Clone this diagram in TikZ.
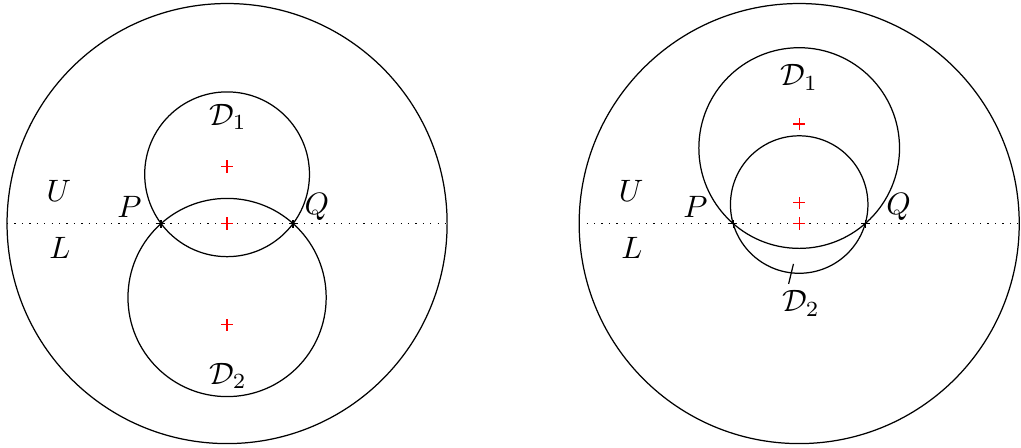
\documentclass[tikz,border=0pt]{standalone}
\usepackage{amsmath, amssymb}
\usepackage{tikz}
\usetikzlibrary{calc}

\tikzset{
  croix/.pic={\draw (-0.07,0) -- (0.07,0) (0,-0.07) -- (0,0.07);},
  petitecroix/.pic={\draw (-0.045,0) -- (0.045,0) (0,-0.045) -- (0,0.045);},
  axe/.style={dotted},
  centre/.style={red}
}

\begin{document}
\begin{tikzpicture}[scale=1.0]
  \useasboundingbox (-2.58,-2.54) rectangle (9.02,2.54);
  % Disque de gauche
  \begin{scope}[shift={(0,0)}]
    \draw (0,0) circle[radius=2.5];
    \coordinate (Wg) at (-2.5,0);
    \coordinate (Eg) at (2.5,0);
    \coordinate (Pg) at (-0.75,0);
    \coordinate (Qg) at (0.75,0);
    \draw[axe] (Wg) -- (Eg);
    \draw (0,0.56) circle[radius=0.936];
    \draw (0,-0.84) circle[radius=1.126];
    \pic at (Pg) {petitecroix};
    \pic at (Qg) {petitecroix};
    \pic[centre] at (0,0.65) {croix};
    \pic[centre] at (0,0) {croix};
    \pic[centre] at (0,-1.15) {croix};
    \node (Dgun) at (0.01,1.21) {$\mathcal{D}_1$};
    \node (Dgdeux) at (0.01,-1.73) {$\mathcal{D}_2$};
    \node (Pglab) at (-1.11,0.19) {$P$};
    \node (Qglab) at (1.02,0.19) {$Q$};
    \node (Ug) at (-1.91,0.37) {$U$};
    \node (Lg) at (-1.90,-0.28) {$L$};
  \end{scope}
  % Disque de droite
  \begin{scope}[shift={(6.5,0)}]
    \draw (0,0) circle[radius=2.5];
    \coordinate (Wd) at (-2.5,0);
    \coordinate (Ed) at (2.5,0);
    \coordinate (Pd) at (-0.75,0);
    \coordinate (Qd) at (0.75,0);
    \draw[axe] (Wd) -- (Ed);
    \draw (0,0.858) circle[radius=1.14];
    \draw (0,0.216) circle[radius=0.781];
    \pic at (Pd) {petitecroix};
    \pic at (Qd) {petitecroix};
    \pic[centre] at (0,1.13) {croix};
    \pic[centre] at (0,0.235) {croix};
    \pic[centre] at (0,0) {croix};
    \node (Ddun) at (0,1.66) {$\mathcal{D}_1$};
    \node (Dddeux) at (0.02,-0.91) {$\mathcal{D}_2$};
    \coordinate (Ddpied) at (-0.12,-0.685);
    \coordinate (Ddbout) at (-0.065,-0.458);
    \draw (Ddpied) -- (Ddbout);
    \node (Pdlab) at (-1.18,0.19) {$P$};
    \node (Qdlab) at (1.13,0.19) {$Q$};
    \node (Ud) at (-1.91,0.37) {$U$};
    \node (Ld) at (-1.90,-0.28) {$L$};
  \end{scope}
\end{tikzpicture}
\end{document}
